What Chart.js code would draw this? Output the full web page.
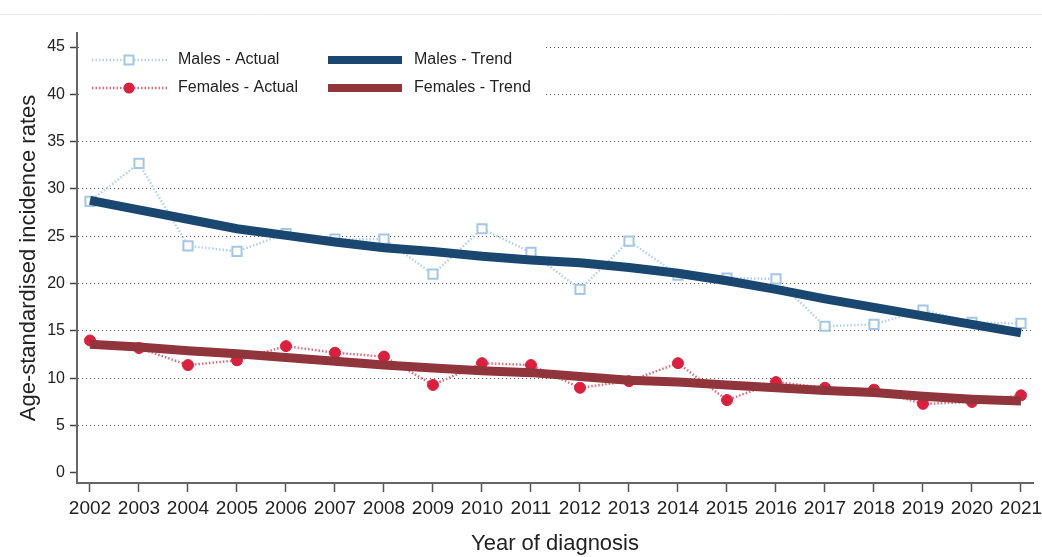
<!DOCTYPE html>
<html>
<head>
<meta charset="utf-8">
<script src="https://cdn.jsdelivr.net/npm/chart.js@4/dist/chart.umd.min.js"></script>
<style>
  html, body { margin: 0; padding: 0; background: #fff; }
  #wrap { width: 1042px; height: 557px; }
</style>
</head>
<body>
<div id="wrap"><canvas id="myChart" width="1042" height="557"></canvas></div>
<script>
// years of diagnosis
var years = [2002, 2003, 2004, 2005, 2006, 2007, 2008, 2009, 2010, 2011,
             2012, 2013, 2014, 2015, 2016, 2017, 2018, 2019, 2020, 2021];
var maleActual = [28.7, 32.7, 24.0, 23.4, 25.3, 24.7, 24.7, 21.0, 25.8, 23.3,
                  19.4, 24.5, 20.9, 20.6, 20.5, 15.5, 15.7, 17.2, 15.9, 15.8];
var femaleActual = [14.0, 13.2, 11.4, 11.9, 13.4, 12.7, 12.3, 9.3, 11.6, 11.4,
                    9.0, 9.7, 11.6, 7.7, 9.6, 9.0, 8.8, 7.3, 7.5, 8.2];
var maleTrend = [28.8, 27.8, 26.8, 25.8, 25.1, 24.4, 23.8, 23.4, 22.9, 22.5,
                 22.2, 21.7, 21.1, 20.3, 19.4, 18.4, 17.5, 16.6, 15.7, 14.8];
var femaleTrend = [13.6, 13.3, 12.9, 12.6, 12.2, 11.8, 11.4, 11.1, 10.8, 10.6,
                   10.2, 9.8, 9.6, 9.3, 9.0, 8.7, 8.5, 8.1, 7.8, 7.6];
var yTicks = [0, 5, 10, 15, 20, 25, 30, 35, 40, 45];
var legendLabels = ['Males - Actual', 'Females - Actual', 'Males - Trend', 'Females - Trend'];

var FONT = '"Liberation Sans", Arial, sans-serif';
var colMaleLine = '#b3d1ee', colMaleMark = '#a3c7e8';
var colFemLine = '#e5697c', colFemMark = '#dc1f3d';
var colMaleTrend = '#1a476f', colFemTrend = '#90353b';

function pts(arr) {
    return years.map(function(y, i) { return {x: y, y: arr[i]}; });
}

// legend drawn inside the plot, with a white box over the grid
var insideLegend = {
    id: 'insideLegend',
    beforeDraw: function(chart) {
        var ctx = chart.ctx;
        ctx.save();
        ctx.strokeStyle = '#ececec';
        ctx.lineWidth = 1;
        ctx.beginPath();
        ctx.moveTo(0, 14.5); ctx.lineTo(1042, 14.5);
        ctx.stroke();
        ctx.restore();
    },
    afterDraw: function(chart) {
        var ctx = chart.ctx;
        ctx.save();
        ctx.fillStyle = '#ffffff';
        ctx.fillRect(81, 37, 464, 65);
        var rows = [60, 88];
        // actual samples
        [[colMaleLine, colMaleMark, 'rect'], [colFemLine, colFemMark, 'circle']].forEach(function(s, i) {
            var y = rows[i];
            ctx.strokeStyle = s[0];
            ctx.lineWidth = 2.5;
            ctx.setLineDash([1.5, 2]);
            ctx.beginPath();
            ctx.moveTo(92, y); ctx.lineTo(167, y);
            ctx.stroke();
            ctx.setLineDash([]);
            ctx.lineWidth = 2;
            if (s[2] === 'rect') {
                ctx.fillStyle = '#fdfcf3';
                ctx.fillRect(124.5, y - 4.5, 9, 9);
                ctx.strokeStyle = s[1];
                ctx.strokeRect(124.5, y - 4.5, 9, 9);
            } else {
                ctx.fillStyle = s[1];
                ctx.beginPath();
                ctx.arc(129, y, 5.5, 0, Math.PI * 2);
                ctx.fill();
            }
        });
        // trend samples
        [colMaleTrend, colFemTrend].forEach(function(c, i) {
            ctx.strokeStyle = c;
            ctx.lineWidth = 8;
            ctx.beginPath();
            ctx.moveTo(328, rows[i]); ctx.lineTo(402, rows[i]);
            ctx.stroke();
        });
        ctx.fillStyle = '#222';
        ctx.font = '16px ' + FONT;
        ctx.textBaseline = 'middle';
        ctx.fillText(legendLabels[0], 178, rows[0]);
        ctx.fillText(legendLabels[1], 178, rows[1]);
        ctx.fillText(legendLabels[2], 414, rows[0]);
        ctx.fillText(legendLabels[3], 414, rows[1]);
        ctx.restore();
    }
};

var ctx = document.getElementById('myChart');
var chart = new Chart(ctx, {
    type: 'line',
    data: {
        datasets: [{
            label: legendLabels[2],
            data: pts(maleTrend),
            borderColor: colMaleTrend,
            borderWidth: 9,
            pointRadius: 0,
            tension: 0,
            order: 0
        }, {
            label: legendLabels[3],
            data: pts(femaleTrend),
            borderColor: colFemTrend,
            borderWidth: 9,
            pointRadius: 0,
            tension: 0,
            order: 0
        }, {
            label: legendLabels[0],
            data: pts(maleActual),
            borderColor: colMaleLine,
            borderWidth: 2.5,
            borderDash: [1.5, 2],
            pointStyle: 'rect',
            pointRadius: 6.5,
            pointBorderWidth: 2,
            pointBorderColor: colMaleMark,
            pointBackgroundColor: '#fdfcf3',
            tension: 0,
            order: 1
        }, {
            label: legendLabels[1],
            data: pts(femaleActual),
            borderColor: colFemLine,
            borderWidth: 2.5,
            borderDash: [1.5, 2],
            pointStyle: 'circle',
            pointRadius: 5.5,
            pointBorderWidth: 1,
            pointBorderColor: colFemMark,
            pointBackgroundColor: colFemMark,
            tension: 0,
            order: 1
        }]
    },
    options: {
        responsive: false,
        devicePixelRatio: 1,
        animation: false,
        layout: { padding: { top: 33, right: 9, left: 0, bottom: 0 } },
        plugins: {
            legend: { display: false },
            tooltip: { enabled: false }
        },
        scales: {
            x: {
                type: 'linear',
                min: 2001.735,
                max: 2021.245,
                afterBuildTicks: function(axis) {
                    axis.ticks = years.map(function(v) { return {value: v}; });
                },
                afterFit: function(axis) {
                    axis.height = 74;
                    axis.paddingLeft = 0;
                    axis.paddingRight = 0;
                },
                ticks: {
                    autoSkip: false,
                    maxRotation: 0,
                    padding: 5,
                    color: '#222',
                    font: { family: FONT, size: 19 },
                    callback: function(v) { return String(v); }
                },
                grid: {
                    drawOnChartArea: false,
                    drawTicks: true,
                    tickLength: 9,
                    tickColor: '#555',
                    tickWidth: 1.5
                },
                border: { display: true, color: '#666', width: 2 },
                title: {
                    display: true,
                    text: 'Year of diagnosis',
                    color: '#222',
                    font: { family: FONT, size: 22 },
                    padding: 0
                }
            },
            y: {
                type: 'linear',
                min: -1.06,
                max: 46.48,
                afterBuildTicks: function(axis) {
                    axis.ticks = yTicks.map(function(v) { return {value: v}; });
                },
                afterFit: function(axis) { axis.width = 77; },
                ticks: {
                    padding: 5,
                    color: '#222',
                    font: { family: FONT, size: 16 }
                },
                grid: {
                    drawOnChartArea: true,
                    drawTicks: true,
                    tickLength: 7,
                    tickColor: '#444',
                    tickWidth: 1.5,
                    tickBorderDash: [],
                    lineWidth: 1,
                    color: function(c) {
                        return c.tick && c.tick.value === 0 ? 'rgba(0,0,0,0)' : '#555';
                    }
                },
                border: { display: true, color: '#666', width: 2, dash: [1, 3] },
                title: {
                    display: true,
                    text: 'Age-standardised incidence rates',
                    color: '#222',
                    font: { family: FONT, size: 22 },
                    padding: { top: 16, bottom: 0 }
                }
            }
        }
    },
    plugins: [insideLegend]
});
</script>
</body>
</html>
